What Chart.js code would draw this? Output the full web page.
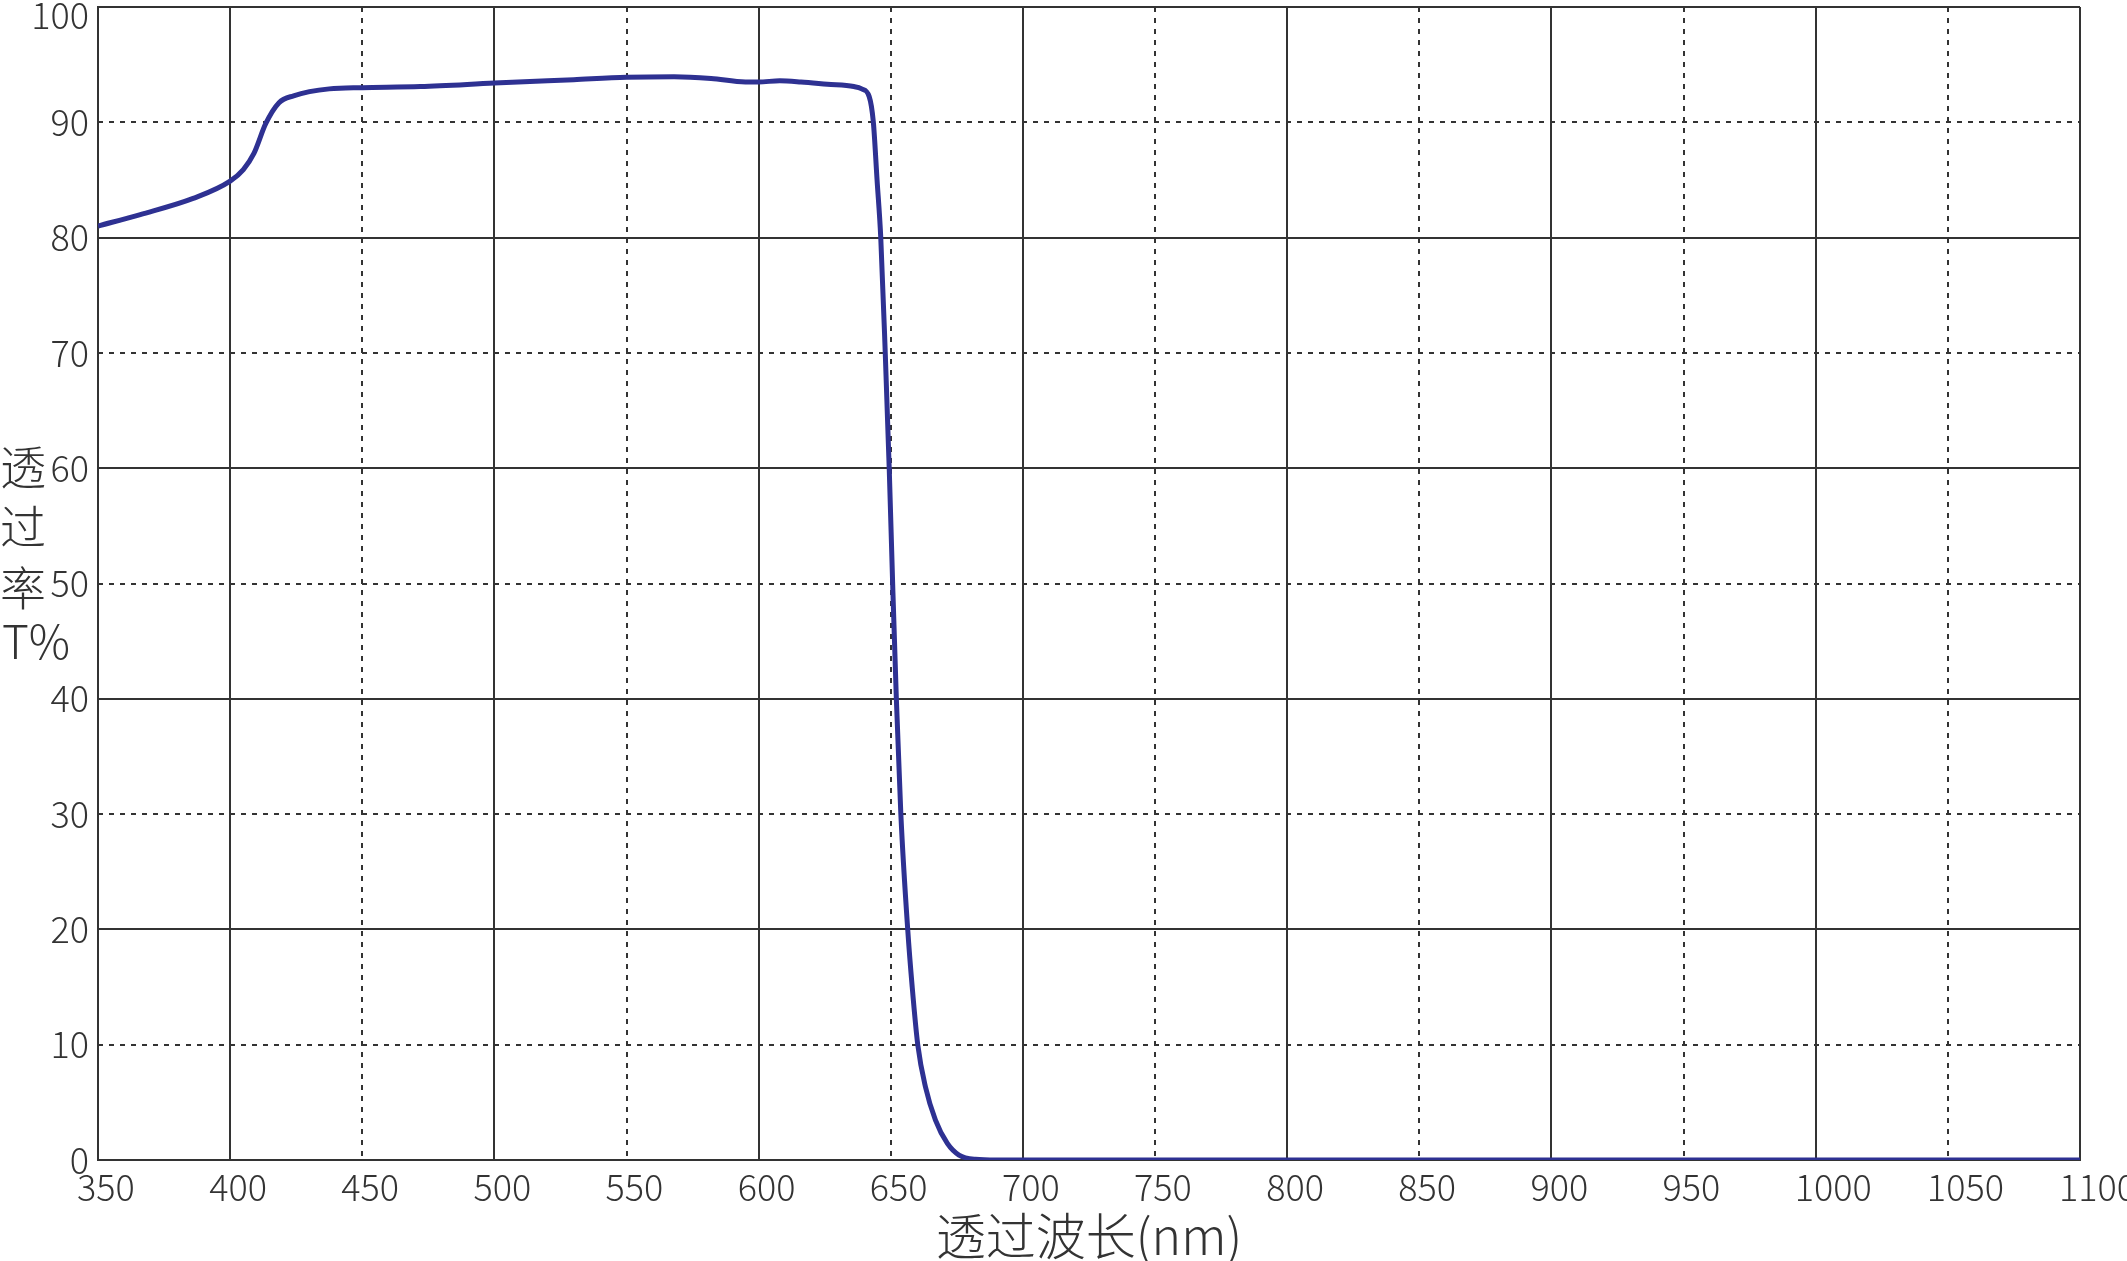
<!DOCTYPE html>
<html>
<head>
<meta charset="utf-8">
<script src="https://cdn.jsdelivr.net/npm/chart.js@4.4.1/dist/chart.umd.min.js"></script>
<style>
  html, body { margin: 0; padding: 0; background: #ffffff; }
  #wrap { position: relative; width: 2127px; height: 1261px; }
  canvas { display: block; }
</style>
</head>
<body>
<div id="wrap"><canvas id="c" width="2127" height="1261"></canvas></div>
<script>
// ---- Data ----
const wavelengths = [350, 366, 386, 400, 405, 409, 413.5, 418.5, 424, 437.5, 450, 472, 500, 530, 550, 568, 582, 595, 600, 608, 616, 626, 636, 639, 641.8, 643.4, 644.8, 646.2, 647.9, 649.4, 650.7, 652.1, 653.8, 656.4, 658.1, 660.2, 663.1, 666.9, 671.4, 675.8, 682, 690, 800, 900, 1000, 1100];
const transmittance = [81.0, 82.0, 83.4, 84.9, 85.9, 87.3, 89.9, 91.7, 92.3, 92.9, 93.0, 93.1, 93.4, 93.7, 93.9, 93.95, 93.8, 93.5, 93.5, 93.6, 93.5, 93.3, 93.1, 92.9, 92.25, 90.0, 85.0, 80.0, 70.0, 60.0, 50.0, 40.0, 30.0, 20.0, 15.0, 10.0, 6.35, 3.46, 1.44, 0.43, 0.06, 0, 0, 0, 0, 0];
const xTickValues = [350, 400, 450, 500, 550, 600, 650, 700, 750, 800, 850, 900, 950, 1000, 1050, 1100];
const yTickValues = [0, 10, 20, 30, 40, 50, 60, 70, 80, 90, 100];
const xTitle = '透过波长(nm)';
const yTitleLines = ['透', '过', '率', 'T%'];

// ---- Styling ----
const FONT = '"Noto Sans CJK SC", "Noto Sans", sans-serif';
const GRID = '#333333';
const LINE = '#2e3192';

const points = wavelengths.map((w, i) => ({ x: w, y: transmittance[i] }));

const yTitlePlugin = {
  id: 'yTitle',
  afterDraw(chart) {
    const ctx = chart.ctx;
    const ys = [467, 527, 588, 642];
    ctx.save();
    ctx.fillStyle = '#333333';
    ctx.font = '300 46px ' + FONT;
    ctx.textAlign = 'left';
    ctx.textBaseline = 'middle';
    yTitleLines.forEach((t, i) => ctx.fillText(t, i === 3 ? 2 : 0, ys[i]));
    ctx.restore();
  }
};

const topValue = yTickValues[yTickValues.length - 1];

new Chart(document.getElementById('c'), {
  type: 'line',
  data: {
    datasets: [{
      data: points,
      borderColor: LINE,
      borderWidth: 5,
      pointRadius: 0,
      fill: false,
      cubicInterpolationMode: 'monotone'
    }]
  },
  options: {
    responsive: false,
    devicePixelRatio: 1,
    animation: false,
    events: [],
    layout: { padding: { left: 0, top: 7, right: 47, bottom: 0 } },
    plugins: { legend: { display: false }, tooltip: { enabled: false } },
    scales: {
      x: {
        type: 'linear', position: 'bottom', min: 350, max: 1100,
        afterBuildTicks: s => { s.ticks = xTickValues.map(v => ({ value: v })); },
        afterFit: s => { s.height = 101; s.paddingLeft = 0; s.paddingRight = 0; },
        grid: {
          drawTicks: false, lineWidth: 2,
          color: c => (c.tick && c.tick.value % 100 === 0) ? GRID : 'rgba(0,0,0,0)'
        },
        border: { display: true, color: GRID, width: 2 },
        ticks: {
          align: 'start', labelOffset: -21, padding: 6, maxRotation: 0, autoSkip: false,
          color: '#333333', font: { family: FONT, size: 36, weight: 300 },
          callback: v => String(v)
        },
        title: {
          display: true, text: xTitle, color: '#333333',
          font: { family: FONT, size: 50, weight: 300, lineHeight: 1.0 },
          padding: { top: 0, bottom: 0 }
        }
      },
      x2: {
        type: 'linear', position: 'top', min: 350, max: 1100,
        afterBuildTicks: s => { s.ticks = xTickValues.filter(v => v % 100 === 50).map(v => ({ value: v })); },
        afterFit: s => { s.height = 0; s.paddingLeft = 0; s.paddingRight = 0; },
        grid: { drawTicks: false, lineWidth: 2, color: GRID },
        border: { display: false, dash: [5, 6] },
        ticks: { display: false }
      },
      y: {
        type: 'linear', position: 'left', min: 0, max: 100,
        afterBuildTicks: s => { s.ticks = yTickValues.map(v => ({ value: v })); },
        afterFit: s => { s.width = 98; s.paddingTop = 0; s.paddingBottom = 0; },
        grid: {
          drawTicks: false, lineWidth: 2,
          color: c => (c.tick && c.tick.value % 20 === 0) ? GRID : 'rgba(0,0,0,0)'
        },
        border: { display: true, color: GRID, width: 2 },
        ticks: {
          padding: 9, autoSkip: false,
          color: '#333333',
          font: c => ({ family: FONT, size: 36, weight: 300,
                        lineHeight: (c.tick && c.tick.value === topValue) ? 0.44 : 1.2 }),
          callback: v => (v === topValue ? ['', String(v)] : String(v))
        }
      },
      y2: {
        type: 'linear', position: 'right', min: 0, max: 100,
        afterBuildTicks: s => { s.ticks = yTickValues.filter(v => v % 20 === 10).map(v => ({ value: v })); },
        afterFit: s => { s.width = 0; s.paddingTop = 0; s.paddingBottom = 0; },
        grid: { drawTicks: false, lineWidth: 2, color: GRID },
        border: { display: false, dash: [5, 6] },
        ticks: { display: false }
      }
    }
  },
  plugins: [yTitlePlugin]
});
</script>
</body>
</html>
